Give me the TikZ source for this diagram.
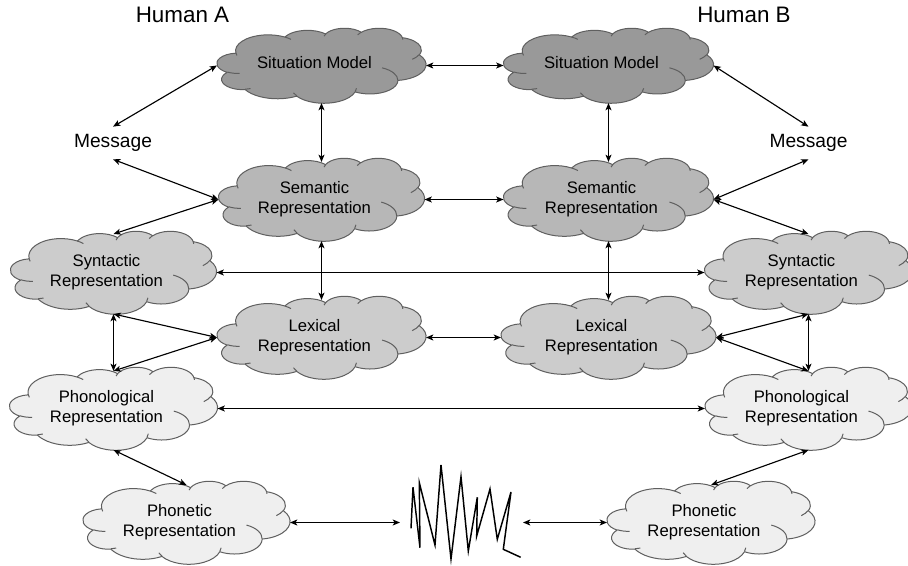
\documentclass[tikz,border=0pt]{standalone}
\usepackage{fontspec}
\setmainfont{Liberation Sans}
\usetikzlibrary{arrows.meta}

\definecolor{sitgray}{HTML}{999999}
\definecolor{semgray}{HTML}{B7B7B7}
\definecolor{syngray}{HTML}{CCCCCC}
\definecolor{lexgray}{HTML}{CCCCCC}
\definecolor{phogray}{HTML}{EFEFEF}
\definecolor{edgegray}{HTML}{5F5F5F}

% One elliptical arc of the cloud outline. Radii, start direction and sweep
% are given as directions seen from the centre; they are turned into the
% parametric angles that TikZ expects.
\newcommand\ooarc[4]{arc[x radius=#1, y radius=#2,
  start angle={atan2((#1)*sin(#3),(#2)*cos(#3))},
  delta angle={mod(atan2((#1)*sin((#3)+(#4)),(#2)*cos((#3)+(#4)))-atan2((#1)*sin(#3),(#2)*cos(#3))+720,360)}]}

% Cloud outline inside a 432 x 432 box (y pointing down)
\newcommand\cloudoutline{(39.00,143.70)
  \ooarc{67.53}{91.90}{-190.4875}{123.7805}
  \ooarc{53.33}{72.67}{-144.1024}{89.9452}
  \ooarc{43.65}{59.45}{-145.8079}{99.7230}
  \ooarc{48.57}{65.95}{-130.9861}{117.2417}
  \ooarc{53.33}{72.73}{-78.7089}{109.0269}
  \ooarc{67.75}{92.20}{-46.2673}{130.2690}
  \ooarc{57.85}{78.67}{0.6250}{114.0333}
  \ooarc{67.52}{92.15}{22.4516}{115.1726}
  \ooarc{77.20}{105.43}{66.2426}{75.7110}
  \ooarc{43.60}{59.18}{-274.9421}{146.7356}
  \ooarc{43.45}{59.45}{-246.8285}{152.5189}
  -- cycle}

% The small inner curls where the puffs overlap
\newcommand\cloudcurls{
  (46.93,261.77) \ooarc{43.45}{59.45}{86.742}{26.4295}
  (69.28,348.99) \ooarc{43.60}{59.18}{73.6105}{11.4475}
  (164.78,390.90) \ooarc{67.52}{92.15}{137.6242}{14.0811}
  (288.27,347.51) \ooarc{67.52}{92.15}{6.4533}{15.9984}
  (341.29,229.54) \ooarc{57.85}{78.67}{-70.2924}{70.9174}
  (417.98,153.54) \ooarc{53.33}{72.73}{30.3180}{27.7515}
  (383.24,54.26) \ooarc{48.57}{65.95}{-13.7443}{14.8589}
  (290.78,39.52) \ooarc{48.57}{65.95}{-149.1815}{18.1954}
  (221.41,47.20) \ooarc{43.65}{59.45}{-163.4943}{17.6864}
  (140.00,51.92) \ooarc{67.53}{91.90}{-66.7070}{12.3194}
  (41.27,157.89) \ooarc{67.53}{91.90}{157.6544}{11.8582}}

\tikzset{
  cloudedge/.style={draw=edgegray, line width=0.75pt, line join=round},
  cloudbox/.style={inner sep=0pt, outer sep=0pt},
  cloudtext/.style={align=center, font=\fontsize{12.5}{15}\selectfont, inner sep=0pt},
  msgtext/.style={font=\fontsize{14.4}{17}\selectfont, inner xsep=1pt, inner ysep=5.6pt},
  humantext/.style={font=\fontsize{16.8}{20}\selectfont, inner sep=0pt},
  link/.style={draw=black, line width=0.85pt,
    {Stealth[length=5.5pt,width=4.5pt,inset=1.4pt]}-{Stealth[length=5.5pt,width=4.5pt,inset=1.4pt]}},
  wavestroke/.style={draw=black, line width=1.1pt, line join=miter},
  wavebox/.style={inner sep=0pt, outer sep=0pt, minimum width=123*0.75pt, minimum height=2pt}
}

% name, left, top, width, height, fill, text, vertical text offset
\newcommand\cloudnode[8]{%
  \pgfmathsetmacro\cloudsx{#4*0.75/432}%
  \pgfmathsetmacro\cloudsy{-#5*0.75/432}%
  \begin{scope}[shift={(#2,#3)}, x=\cloudsx pt, y=\cloudsy pt]
    \filldraw[cloudedge, fill=#6] \cloudoutline;
    \draw[cloudedge] \cloudcurls;
  \end{scope}
  \node[cloudbox, minimum width=#4*0.75pt, minimum height=#5*0.75pt] (#1) at (#2+#4/2,#3+#5/2) {};
  \node[cloudtext] (#1text) at ([shift={(-7,#8)}]#1.center) {#7};
}

\begin{document}
\begin{tikzpicture}[x=0.75pt, y=-0.75pt]
  \useasboundingbox (0,0) rectangle (908,566);

  % people
  \node[humantext] (humanA) at (182.5,15) {Human A};
  \node[humantext] (humanB) at (744,15) {Human B};

  % levels of representation
  \cloudnode{sitA}{217}{28}{209}{75}{sitgray}{Situation Model}{-3}
  \cloudnode{sitB}{503.5}{28}{210}{75}{sitgray}{Situation Model}{-3}
  \cloudnode{semA}{218.5}{158}{206}{83}{semgray}{Semantic\\Representation}{0}
  \cloudnode{semB}{503.5}{158}{210}{83}{semgray}{Semantic\\Representation}{0}
  \cloudnode{synA}{10.5}{231}{206}{83}{syngray}{Syntactic\\Representation}{0}
  \cloudnode{synB}{704.5}{231}{208}{83}{syngray}{Syntactic\\Representation}{0}
  \cloudnode{lexA}{217}{296}{209}{83}{lexgray}{Lexical\\Representation}{0}
  \cloudnode{lexB}{501}{296}{215}{83}{lexgray}{Lexical\\Representation}{0}
  \cloudnode{phoA}{9.5}{367}{208}{83}{phogray}{Phonological\\Representation}{0}
  \cloudnode{phoB}{705}{367}{207}{83}{phogray}{Phonological\\Representation}{0}
  \cloudnode{phtA}{83}{481}{207}{83}{phogray}{Phonetic\\Representation}{0}
  \cloudnode{phtB}{607}{481}{208}{83}{phogray}{Phonetic\\Representation}{0}

  % messages
  \node[msgtext] (msgA) at (113,143) {Message};
  \node[msgtext] (msgB) at (808.5,143) {Message};

  % sound wave between the speakers
  \node[wavebox] (wave) at (461.5,522.5) {};
  \draw[wavestroke] (411.0,528.3) -- (413.0,487.3) -- (420.0,547.7) -- (419.3,482.7)
    -- (435.0,545.0) -- (441.0,465.0) -- (451.0,559.0) -- (461.0,476.7)
    -- (468.3,551.0) -- (477.3,497.3) -- (476.7,536.0) -- (490.0,489.0)
    -- (497.3,539.3) -- (511.0,492.0) -- (503.3,549.3) -- (520.7,557.3);

  % links, speaker A
  \draw[link] (msgA.north) -- (sitA.west);
  \draw[link] (msgA.south) -- (semA.west);
  \draw[link] ([shift={(0,3)}]synA.north) -- (semA.west);
  \draw[link] (sitA.south) -- ([shift={(0,4)}]semA.north);
  \draw[link] (semA.south) -- ([shift={(0,4)}]lexA.north);
  \draw[link] (synA.south) -- (lexA.west);
  \draw[link] (synA.south) -- ([shift={(0,4)}]phoA.north);
  \draw[link] ([shift={(0,4)}]phoA.north) -- (lexA.west);
  \draw[link] (phoA.south) -- ([shift={(0,4)}]phtA.north);

  % links, speaker B
  \draw[link] (sitB.east) -- (msgB.north);
  \draw[link] (msgB.south) -- (semB.east);
  \draw[link] (semB.east) -- ([shift={(0,3)}]synB.north);
  \draw[link] (sitB.south) -- ([shift={(0,4)}]semB.north);
  \draw[link] (semB.south) -- ([shift={(0,4)}]lexB.north);
  \draw[link] (lexB.east) -- (synB.south);
  \draw[link] (lexB.east) -- ([shift={(0,4)}]phoB.north);
  \draw[link] (synB.south) -- ([shift={(0,4)}]phoB.north);
  \draw[link] (phoB.south) -- ([shift={(0,4)}]phtB.north);

  % alignment between the speakers
  \draw[link] (sitA.east) -- (sitB.west);
  \draw[link] (semA.east) -- (semB.west);
  \draw[link] (synA.east) -- (synB.west);
  \draw[link] (lexA.east) -- (lexB.west);
  \draw[link] (phoA.east) -- (phoB.west);
  \draw[link] (phtA.east) -- (wave.west);
  \draw[link] (wave.east) -- (phtB.west);
\end{tikzpicture}
\end{document}
